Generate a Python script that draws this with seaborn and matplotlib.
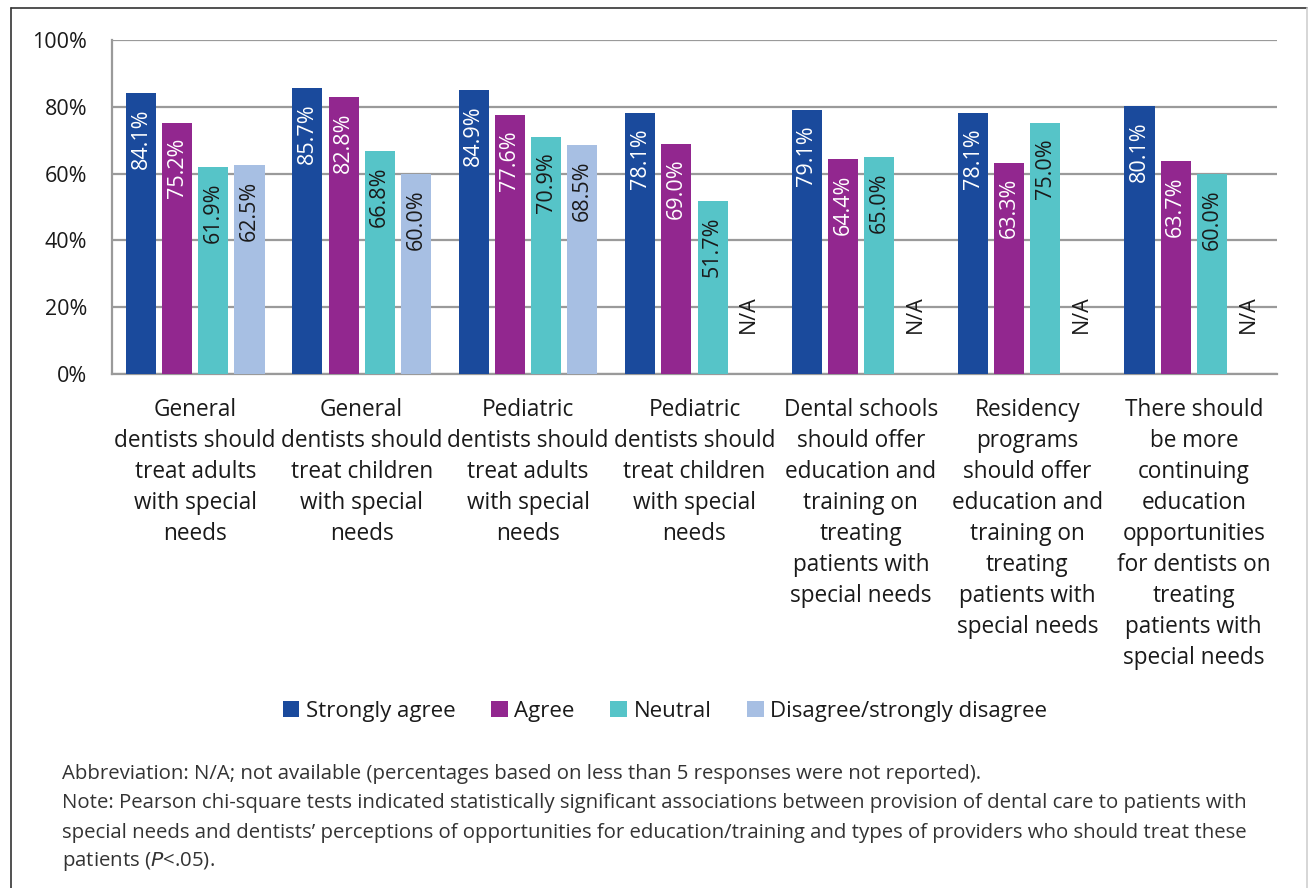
import matplotlib
matplotlib.use("Agg")
import matplotlib.pyplot as plt
from matplotlib.patches import Patch
from matplotlib.lines import Line2D
import seaborn as sns
import pandas as pd
import numpy as np

# Survey statements (x-axis categories)
categories = [
    "General\ndentists should\ntreat adults\nwith special\nneeds",
    "General\ndentists should\ntreat children\nwith special\nneeds",
    "Pediatric\ndentists should\ntreat adults\nwith special\nneeds",
    "Pediatric\ndentists should\ntreat children\nwith special\nneeds",
    "Dental schools\nshould offer\neducation and\ntraining on\ntreating\npatients with\nspecial needs",
    "Residency\nprograms\nshould offer\neducation and\ntraining on\ntreating\npatients with\nspecial needs",
    "There should\nbe more\ncontinuing\neducation\nopportunities\nfor dentists on\ntreating\npatients with\nspecial needs",
]

# Response groups
responses = ["Strongly agree", "Agree", "Neutral", "Disagree/strongly disagree"]

# Percent of respondents providing care, by response (None = not reported)
strongly_agree = [84.1, 85.7, 84.9, 78.1, 79.1, 78.1, 80.1]
agree = [75.2, 82.8, 77.6, 69.0, 64.4, 63.3, 63.7]
neutral = [61.9, 66.8, 70.9, 51.7, 65.0, 75.0, 60.0]
disagree = [62.5, 60.0, 68.5, None, None, None, None]

colors = ["#1A4A9C", "#92278F", "#56C4C8", "#A7BFE3"]
label_colors = ["white", "white", "#1a1a1a", "#1a1a1a"]

series = [strongly_agree, agree, neutral, disagree]
rows = []
for resp, vals in zip(responses, series):
    for cat, v in zip(categories, vals):
        rows.append({"category": cat, "response": resp,
                     "value": 0.0 if v is None else v,
                     "reported": v is not None})
df = pd.DataFrame(rows)

sns.set_theme(style="white")
plt.rcParams["font.family"] = ["Open Sans", "DejaVu Sans"]

fig = plt.figure(figsize=(13.08, 8.88), dpi=100)
ax = fig.add_axes([112 / 1308, 1 - 374 / 888, (1277 - 112) / 1308, (374 - 40) / 888])

sns.barplot(data=df, x="category", y="value", hue="response",
            hue_order=responses, order=categories, palette=colors,
            width=0.87, gap=0.17, linewidth=0, saturation=1,
            errorbar=None, legend=False, ax=ax, zorder=3)

ax.set_ylim(0, 100)
ax.set_yticks(np.arange(0, 101, 20))
ax.set_yticklabels([f"{t}%" for t in range(0, 101, 20)])
ax.set_xlim(-0.5, len(categories) - 0.5)
ax.yaxis.grid(True, color="#9a9a9a", linewidth=1.6, zorder=0)
ax.set_axisbelow(True)
ax.set_xlabel("")
ax.set_ylabel("")
for side in ["top", "right"]:
    ax.spines[side].set_visible(False)
for side in ["left", "bottom"]:
    ax.spines[side].set_color("#9a9a9a")
    ax.spines[side].set_linewidth(1.6)
ax.tick_params(axis="y", length=0, pad=18, labelsize=15.5, labelcolor="#1a1a1a")
ax.tick_params(axis="x", length=0, pad=17, labelsize=16.3, labelcolor="#1a1a1a")
for lab in ax.get_xticklabels():
    lab.set_linespacing(1.39)

# Value labels inside the top of each bar; N/A where not reported
for h, cont in enumerate(ax.containers):
    vals = series[h]
    for bar, v in zip(cont, vals):
        xc = bar.get_x() + bar.get_width() / 2
        if v is None:
            ax.text(xc, 12.3, "N/A", rotation=90, ha="center", va="bottom",
                    fontsize=15.5, color="#1a1a1a", zorder=4)
        else:
            ax.annotate(f"{v:.1f}%", (xc, v), xytext=(0, -11),
                        textcoords="offset points", rotation=90,
                        ha="center", va="top", fontsize=15.5,
                        color=label_colors[h], zorder=4)

handles = [Patch(facecolor=c, edgecolor="none") for c in colors]
fig.legend(handles, responses, loc="center", bbox_to_anchor=(665 / 1308, 1 - 711 / 888),
           ncol=4, frameon=False, fontsize=16, handlelength=0.75, handleheight=0.75,
           handletextpad=0.3, columnspacing=1.6, labelcolor="#1a1a1a")

note_lines = [
    "Abbreviation: N/A; not available (percentages based on less than 5 responses were not reported).",
    "Note: Pearson chi-square tests indicated statistically significant associations between provision of dental care to patients with",
    "special needs and dentists\u2019 perceptions of opportunities for education/training and types of providers who should treat these",
    "patients ($\\it{P}$<.05).",
]
y0 = 774
for i, line in enumerate(note_lines):
    fig.text(62 / 1308, 1 - (y0 + i * 29.3) / 888, line, ha="left", va="center",
             fontsize=14.7, color="#333333")

# Frame around the figure
fig.add_artist(Line2D([11 / 1308, 11 / 1308], [0, 1 - 8 / 888], color="#333333", linewidth=1.2))
fig.add_artist(Line2D([11 / 1308, 1307 / 1308], [1 - 8 / 888, 1 - 8 / 888], color="#333333", linewidth=1.2))
fig.add_artist(Line2D([1306.5 / 1308, 1306.5 / 1308], [0, 1 - 8 / 888], color="#d0d0d0", linewidth=1.2))

fig.savefig("out.png", dpi=100, facecolor="white")
